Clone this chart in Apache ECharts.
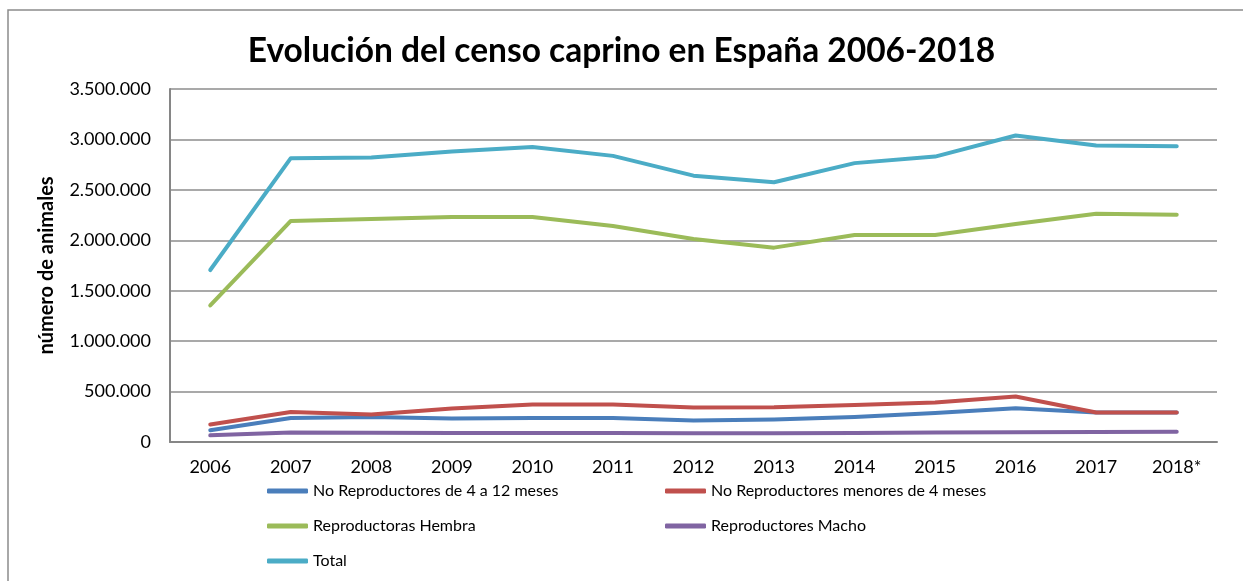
<!DOCTYPE html>
<html>
<head>
<meta charset="utf-8">
<script src="https://cdn.jsdelivr.net/npm/echarts@6/dist/echarts.min.js"></script>
<style>html,body{margin:0;padding:0;background:#fff;}#c{width:1243px;height:581px;}</style>
</head>
<body>
<div id="c"></div>
<script>
const categories = ['2006','2007','2008','2009','2010','2011','2012','2013','2014','2015','2016','2017','2018*'];
const noRep4a12 = [116000, 238000, 248000, 232000, 238000, 238000, 212000, 222000, 248000, 288000, 335000, 292000, 292000];
const noRepMenores4 = [173000, 298000, 272000, 331000, 371000, 371000, 342000, 345000, 368000, 391000, 451000, 292000, 292000];
const reproHembra = [1354000, 2192000, 2210000, 2231000, 2231000, 2142000, 2013000, 1927000, 2053000, 2053000, 2162000, 2264000, 2254000];
const reproMacho = [66000, 93000, 92000, 90000, 89000, 89000, 87000, 87000, 90000, 95000, 97000, 100000, 101000];
const total = [1705000, 2814000, 2820000, 2880000, 2926000, 2837000, 2641000, 2576000, 2765000, 2830000, 3039000, 2940000, 2933000];
const seriesNames = ['No Reproductores de 4 a 12 meses','No Reproductores menores de 4 meses','Reproductoras Hembra','Reproductores Macho','Total'];
const colors = ['#4A7EBB','#C0504D','#9BBB59','#8064A2','#4BACC6'];

const font = 'Lato, "Open Sans", sans-serif';
const fmt = v => String(v).replace(/\B(?=(\d{3})+(?!\d))/g, '.');
const chart = echarts.init(document.getElementById('c'), null, {renderer:'canvas'});
const dataArr = [noRep4a12, noRepMenores4, reproHembra, reproMacho, total];
const order = [4,2,0,1,3];
const series = order.map(i => ({
  name: seriesNames[i], type: 'line', data: dataArr[i], symbol: 'none',
  lineStyle: {width: 4, color: colors[i], cap: 'round', join: 'round'},
  itemStyle: {color: colors[i]}, animation: false
}));
const legendCommon = {
  orient: 'vertical', icon: 'roundRect', itemWidth: 41, itemHeight: 5, itemGap: 19, padding: 0,
  textStyle: {fontFamily: font, fontSize: 16, color: '#000'}, selectedMode: false
};
chart.setOption({
  animation: false,
  backgroundColor: '#fff',
  color: colors,
  title: {text: 'Evolución del censo caprino en España 2006-2018', left: 'center', top: 29,
    textStyle: {fontFamily: font, fontWeight: 'bold', fontSize: 33.5, color: '#000'}},
  graphic: [{type: 'rect', shape: {x: 8, y: 10, width: 1300, height: 650}, style: {fill: 'none', stroke: '#8c8c8c', lineWidth: 1.5}, silent: true}],
  grid: {left: 170, right: 26, top: 89, bottom: 139, containLabel: false},
  legend: [
    Object.assign({}, legendCommon, {left: 267, top: 483, data: [seriesNames[0], seriesNames[2], seriesNames[4]]}),
    Object.assign({}, legendCommon, {left: 665, top: 483, data: [seriesNames[1], seriesNames[3]]})
  ],
  xAxis: {type: 'category', data: categories, boundaryGap: true,
    axisLine: {lineStyle: {color: '#868686', width: 2}}, axisTick: {show: false},
    axisLabel: {fontFamily: font, fontSize: 18, color: '#000', margin: 16, interval: 0}},
  yAxis: {type: 'value', min: 0, max: 3500000, interval: 500000,
    name: 'número de animales', nameLocation: 'middle', nameGap: 113, nameRotate: 90,
    nameTextStyle: {fontFamily: font, fontWeight: 'bold', fontSize: 20, color: '#000'},
    axisLine: {show: true, lineStyle: {color: '#868686', width: 2}}, axisTick: {show: false},
    splitLine: {lineStyle: {color: '#8c8c8c', width: 1.5}},
    axisLabel: {fontFamily: font, fontSize: 18, color: '#000', margin: 19, formatter: fmt}},
  series: series
});
</script>
</body>
</html>
